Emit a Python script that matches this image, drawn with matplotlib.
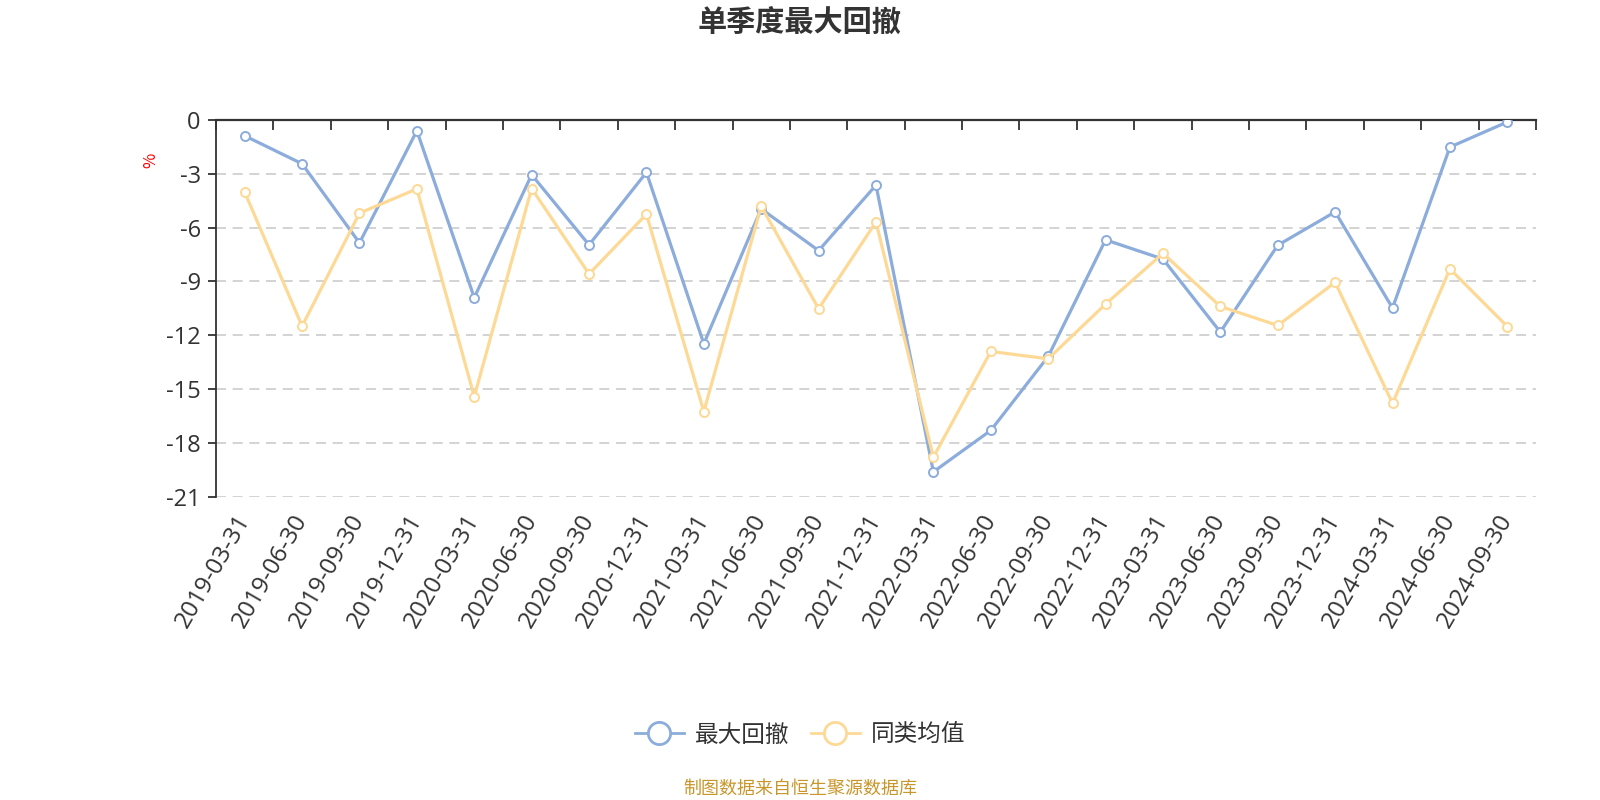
import matplotlib
matplotlib.use("Agg")
import matplotlib.pyplot as plt
from matplotlib.lines import Line2D
from matplotlib.ticker import FixedLocator

plt.rcParams['font.family'] = ['Noto Sans CJK SC', 'DejaVu Sans']
NUMFONT = ['Open Sans', 'DejaVu Sans']

dates = ["2019-03-31", "2019-06-30", "2019-09-30", "2019-12-31",
         "2020-03-31", "2020-06-30", "2020-09-30", "2020-12-31",
         "2021-03-31", "2021-06-30", "2021-09-30", "2021-12-31",
         "2022-03-31", "2022-06-30", "2022-09-30", "2022-12-31",
         "2023-03-31", "2023-06-30", "2023-09-30", "2023-12-31",
         "2024-03-31", "2024-06-30", "2024-09-30"]
max_drawdown = [-0.88, -2.44, -6.85, -0.60, -9.90, -3.05, -6.96, -2.92,
                -12.47, -4.95, -7.28, -3.63, -19.61, -17.30, -13.18, -6.68,
                -7.75, -11.82, -6.98, -5.12, -10.48, -1.51, -0.11]
peer_avg = [-4.02, -11.49, -5.19, -3.84, -15.42, -3.82, -8.58, -5.25,
            -16.25, -4.80, -10.52, -5.68, -18.79, -12.90, -13.31, -10.26,
            -7.43, -10.39, -11.45, -9.05, -15.79, -8.30, -11.51]
series_names = ["最大回撤", "同类均值"]
y_ticks = [0, -3, -6, -9, -12, -15, -18, -21]

BLUE = '#8CACDB'
ORANGE = '#FDD995'
AXC = '#333333'

fig = plt.figure(figsize=(16, 8), dpi=100)
ax = fig.add_axes([0.135, 0.379, 0.825, 0.471])

x = list(range(len(dates)))
ax.plot(x, max_drawdown, color=BLUE, lw=2.3, marker='o', markersize=6.5,
        markerfacecolor='white', markeredgecolor=BLUE, markeredgewidth=1.4, zorder=3)
ax.plot(x, peer_avg, color=ORANGE, lw=2.3, marker='o', markersize=6.5,
        markerfacecolor='white', markeredgecolor=ORANGE, markeredgewidth=1.4, zorder=4)

ax.set_xlim(-0.5, len(dates) - 0.5)
ax.set_ylim(-21, 0)

# y axis
ax.set_yticks(y_ticks)
ax.set_yticklabels([str(v) for v in y_ticks], family=NUMFONT)
ax.tick_params(axis='y', direction='out', length=6, width=1.3, color=AXC,
               labelsize=17, labelcolor=AXC, pad=5)
for v in y_ticks[1:]:
    ax.axhline(v, color='#cccccc', lw=1.2, ls=(0, (6, 4)), zorder=1)

# x axis: labels at bottom, ticks on top line (y=0)
ax.set_xticks(x)
ax.set_xticklabels(dates, rotation=60, ha='right', va='center',
                   rotation_mode='anchor', family=NUMFONT)
ax.tick_params(axis='x', which='major', length=0, labelsize=17.5, labelcolor=AXC,
               pad=14, bottom=True, top=False, labelbottom=True)
ax.xaxis.set_minor_locator(FixedLocator([i - 0.5 for i in range(len(dates) + 1)]))
ax.tick_params(axis='x', which='minor', direction='in', length=7, width=1.3,
               color=AXC, top=True, bottom=False)

for s in ['right', 'bottom']:
    ax.spines[s].set_visible(False)
ax.spines['left'].set_color(AXC)
ax.spines['left'].set_linewidth(1.3)
ax.spines['top'].set_color(AXC)
ax.spines['top'].set_linewidth(1.6)

fig.text(151 / 1600, 1 - 160 / 800, '%', color='red', fontsize=12,
         rotation=90, ha='center', va='center')

fig.text(0.5, 1 - 23 / 800, '单季度最大回撤', fontsize=21, fontweight='bold',
         color=AXC, ha='center', va='center')

handles = [Line2D([0], [0], color=BLUE, lw=2, marker='o', markersize=16,
                  markerfacecolor='white', markeredgecolor=BLUE, markeredgewidth=2),
           Line2D([0], [0], color=ORANGE, lw=2, marker='o', markersize=16,
                  markerfacecolor='white', markeredgecolor=ORANGE, markeredgewidth=2)]
fig.legend(handles, series_names, loc='center', bbox_to_anchor=(0.5, 1 - 735 / 800),
           ncol=2, frameon=False, fontsize=17, handlelength=2.1, handletextpad=0.45,
           columnspacing=0.9, labelcolor=AXC)

fig.text(0.5, 1 - 789 / 800, '制图数据来自恒生聚源数据库', fontsize=13,
         color='#C9962C', ha='center', va='center')

fig.savefig('out.png', dpi=100)
